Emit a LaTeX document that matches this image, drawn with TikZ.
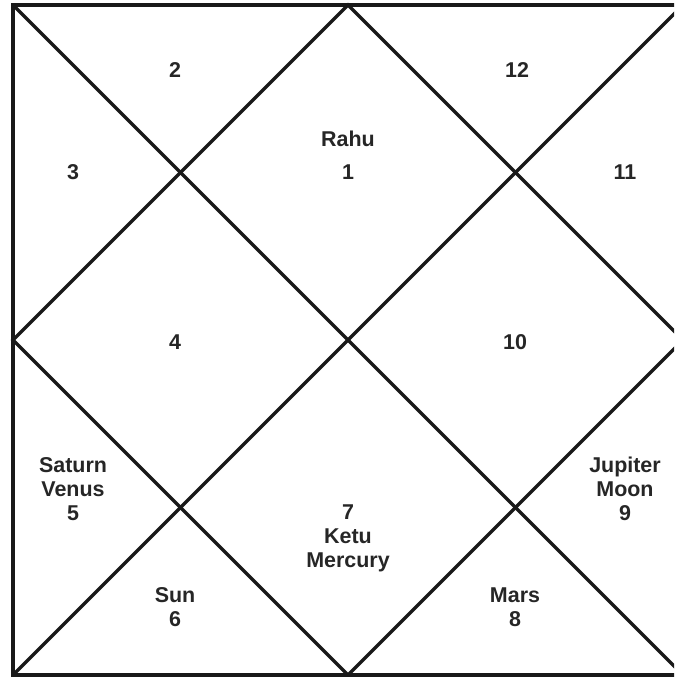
\documentclass[tikz,border=0pt]{standalone}
\usepackage{fontspec}
\setmainfont{Liberation Sans}
\usetikzlibrary{positioning}
\tikzset{
  chartline/.style={line width=2.8pt, black!90},
  frameline/.style={line width=3.4pt, black!90},
  house/.style={font=\fontsize{18.3}{20.4}\selectfont\bfseries, align=center,
                inner sep=0pt, text=black!85},
}
\begin{document}
\begin{tikzpicture}[x=0.03cm, y=-0.03cm]
  \useasboundingbox (0,0) rectangle (674,677);
  \clip (0,0) rectangle (674,677);
  % corners of the chart
  \coordinate (tl) at (13,5);
  \coordinate (tr) at (683,5);
  \coordinate (bl) at (13,675);
  \coordinate (br) at (683,675);
  \coordinate (top) at (348,5);
  \coordinate (lft) at (13,340);
  \coordinate (bot) at (348,675);
  \coordinate (rgt) at (683,340);
  \draw[frameline] (tl) rectangle (br);
  \draw[chartline] (tl) -- (br);
  \draw[chartline] (bl) -- (tr);
  \draw[chartline] (top) -- (lft) -- (bot) -- (rgt) -- cycle;

  % houses
  \node[house] (h1)  at (348,155.5) {Rahu\\[7.5pt]1};
  \node[house] (h2)  at (175,70)  {2};
  \node[house] (h3)  at (73,172)  {3};
  \node[house] (h4)  at (175,342) {4};
  \node[house] (h5)  at (73,489)  {Saturn\\Venus\\5};
  \node[house] (h6)  at (175,607) {Sun\\6};
  \node[house] (h7)  at (348,538) {7\\Ketu\\Mercury};
  \node[house] (h8)  at (515,607) {Mars\\8};
  \node[house] (h9)  at (625,489) {Jupiter\\Moon\\9};
  \node[house] (h10) at (515,342) {10};
  \node[house] (h11) at (625,172) {11};
  \node[house] (h12) at (517,70)  {12};
\end{tikzpicture}
\end{document}
